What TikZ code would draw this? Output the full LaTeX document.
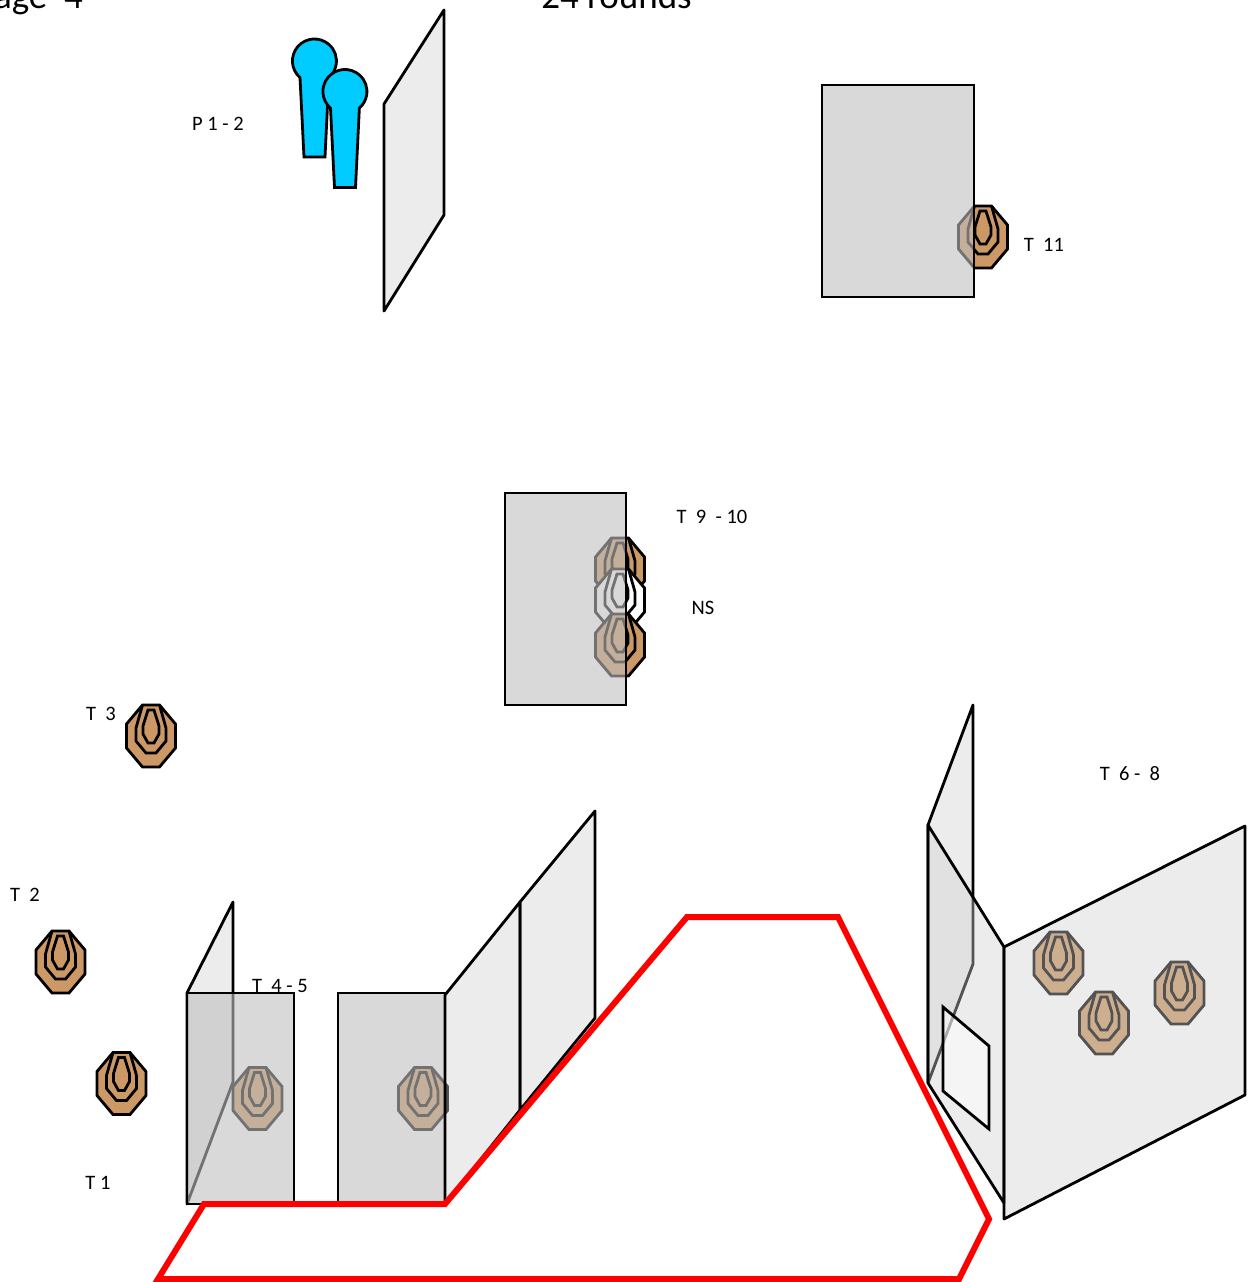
\documentclass[tikz,border=0pt]{standalone}
\usepackage{fontspec}
\setmainfont{Carlito}
\definecolor{targettan}{HTML}{CC9966}
\definecolor{standblue}{HTML}{00CCFF}
\definecolor{panelgray}{HTML}{BFBFBF}
\definecolor{winggray}{HTML}{D0D0D0}
\tikzset{
  panel/.style={draw=black, line width=2.8pt, fill=panelgray, fill opacity=.6},
  wing/.style={draw=black, line width=2.8pt, line join=round, fill=winggray, fill opacity=.4},
  window/.style={draw=black, line width=2.8pt, fill=white, fill opacity=.5},
  boxline/.style={draw=red, line width=6pt},
  tag/.style={font=\fontsize{20.5}{20.5}\selectfont, inner sep=0pt},
  pics/target/.style={code={
    \begin{scope}[yscale=-1]
    \draw[line width=2.8pt, fill=#1] (-8.5,-31) -- (8.5,-31) -- (24.5,-12) -- (24.5,12) -- (8.5,31) -- (-8.5,31) -- (-24.5,12) -- (-24.5,-12) -- cycle;
    \draw[line width=2.8pt] (-8.5,-31) -- (-15,-8) -- (-15,5) -- (-5,17) -- (5,17) -- (15,5) -- (15,-8) -- (8.5,-31);
    \draw[line width=2.8pt] (-3,-26) -- (3,-26) -- (8,-10) -- (8,-2) -- (3,7) -- (-3,7) -- (-8,-2) -- (-8,-10) -- cycle;
    \end{scope}
  }},
  pics/target/.default=targettan,
  pics/shooter/.style={code={
    \begin{scope}[yscale=-1]
    \draw[line width=2.8pt, fill=standblue] (304,157) -- (300,77.6) arc (131:409:22) -- (325,157) -- cycle;
    \end{scope}
  }}
}
\begin{document}
\begin{tikzpicture}[x=1pt, y=1pt, yscale=-1]
  \path[use as bounding box, clip] (0,0) rectangle (1255,1282);
  % titles
  \node[font=\fontsize{37}{37}\selectfont, inner sep=0pt, anchor=base east] (stage) at (83,9) {Stage\ \ 4};
  \node[font=\fontsize{37}{37}\selectfont, inner sep=0pt, anchor=base] (rounds) at (616.5,9) {24 rounds};
  % shooting positions
  \pic (p1) at (0,0) {shooter};
  \pic (p2) at (30.5,30.5) {shooter};
  \draw[wing] (384,104) -- (444,10) -- (444,215) -- (384,311) -- cycle;
  % targets
  \pic (t1) at (121.5,1083.5) {target};
  \pic (t2) at (60.5,962) {target};
  \pic (t3) at (151,736) {target};
  \pic (t4) at (257.5,1098.5) {target};
  \pic (t5) at (423,1098.5) {target};
  \pic (t6) at (1058.5,963) {target};
  \pic (t7) at (1104,1023) {target};
  \pic (t8) at (1179.5,993) {target};
  \pic (t9) at (620,569) {target};
  \pic (ns) at (620,600) {target=white};
  \pic (t10) at (620,645) {target};
  \pic (t11) at (983,237) {target};
  % walls
  \draw[panel] (822,85) rectangle (974,297);
  \draw[panel] (505,493) rectangle (626,705);
  \draw[wing] (187,993) -- (233,902) -- (233,1082) -- (187,1204) -- cycle;
  \draw[panel] (187,993) rectangle (294,1204);
  \draw[panel] (338,993) rectangle (445,1204);
  \draw[wing] (520,902) -- (595,811) -- (595,1018) -- (520,1110) -- cycle;
  \draw[wing] (445,995) -- (520,902) -- (520,1110) -- (445,1204) -- cycle;
  \draw[wing] (928,825) -- (973,705) -- (973,964) -- (928,1083) -- cycle;
  \draw[wing] (928,825) -- (1004,947) -- (1004,1203) -- (928,1083) -- cycle;
  \draw[window] (943,1007) -- (989,1046) -- (989,1129) -- (943,1091) -- cycle;
  \draw[wing] (1004,947) -- (1245,826) -- (1245,1095) -- (1004,1219) -- cycle;
  % red box
  \draw[boxline] (158,1279) -- (204,1204) -- (445,1204) -- (687,917) -- (838,917) -- (989,1219) -- (959,1279) -- cycle;
  % labels
  \node[tag] (lp) at (218,124) {P 1 - 2};
  \node[tag] (l11) at (1044,245) {T\ \ 11};
  \node[tag] (l9) at (712,517) {T\ \ 9\ \ - 10};
  \node[tag] (lns) at (703,608) {NS};
  \node[tag] (l3) at (101,714) {T\ \ 3};
  \node[tag] (l2) at (25,895) {T\ \ 2};
  \node[tag] (l1) at (98,1183) {T 1};
  \node[tag] (l4) at (280,986) {T\ \ 4 - 5};
  \node[tag] (l6) at (1130,774) {T\ \ 6 -\ \ 8};
\end{tikzpicture}
\end{document}
